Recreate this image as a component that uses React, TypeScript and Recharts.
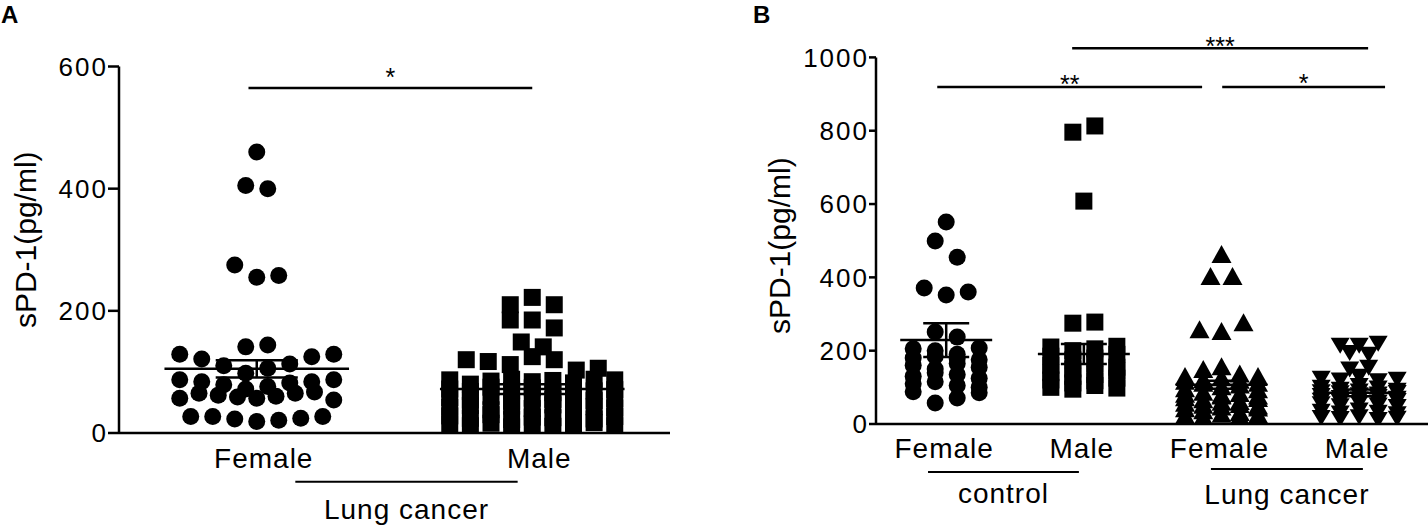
import React from 'react';
import { ScatterChart, Scatter, XAxis, YAxis, ReferenceLine } from 'recharts';

const FONT = '"Liberation Sans", Arial, Helvetica, sans-serif';

// ---------- Panel A data ----------
const categoriesA = ['Female', 'Male'];
const yTicksA = [0, 200, 400, 600];
// values per visual row, read left to right
const lungFemaleRowsA = [
  [460],
  [405, 400],
  [275, 255, 258],
  [141, 144],
  [129, 121, 110, 98, 106, 113, 125, 129],
  [87, 84, 79, 72, 76, 82, 84, 87],
  [57, 65, 62, 59, 57, 60, 65, 67, 54],
  [27, 27, 23, 19, 21, 24, 27],
];
const lungMaleRowsA = [
  [210, 222, 210],
  [185, 185, 172],
  [149, 141],
  [120, 117, 112, 125, 120, 103, 106],
  [87, 80, 85, 88, 84, 86, 82, 88, 87],
  [72, 68, 75, 70, 74, 66, 73, 69, 71],
  [58, 54, 60, 52, 57, 55, 59, 53, 56],
  [42, 45, 38, 44, 40, 46, 39, 43, 41],
  [28, 24, 30, 22, 26, 25, 29, 23, 27],
  [14, 12, 16, 10, 15, 11, 13, 17, 12],
];
const meansA = [105, 72];
const semsA = [14, 8];
const sigA = [{ from: 0.97, to: 2.0, y: 565, text: '*' }];
const groupA = [{ from: 1.14, to: 1.947, y: -80, text: 'Lung cancer' }];

// ---------- Panel B data ----------
const categoriesB = ['Female', 'Male', 'Female', 'Male'];
const yTicksB = [0, 200, 400, 600, 800, 1000];
const controlFemaleRowsB = [
  [551],
  [499, 455],
  [371, 352, 360],
  [251, 237],
  [205, 200, 190, 207],
  [180, 185, 178, 175],
  [160, 150, 165, 155],
  [130, 140, 135, 125],
  [110, 115, 105, 100],
  [88, 57, 71, 85],
];
const controlMaleRowsB = [
  [796, 813],
  [608],
  [275, 278],
  [210, 200, 205, 212],
  [185, 175, 180, 190],
  [160, 150, 165, 155],
  [140, 130, 135, 145],
  [120, 112, 118, 125],
  [100, 95, 105, 98],
];
const lungFemaleRowsB = [
  [461],
  [401, 401],
  [256, 251, 275],
  [128, 147, 155, 135, 128],
  [115, 120, 125, 118, 110],
  [95, 110, 100, 105, 92],
  [80, 85, 78, 82, 75],
  [70, 65, 75, 60, 68],
  [55, 50, 58, 52, 48],
  [40, 35, 45, 30, 42],
  [22, 18, 25, 20, 24],
];
const lungMaleRowsB = [
  [215, 215, 220],
  [195, 190],
  [150, 155],
  [125, 120, 130, 118, 122],
  [100, 95, 105, 98, 92],
  [88, 85, 90, 82, 86],
  [78, 72, 80, 75, 70],
  [65, 62, 68, 60, 64],
  [55, 50, 58, 52, 48],
  [35, 30, 38, 32, 28],
  [18, 15, 20, 12, 16],
];
const meansB = [229, 191, 107, 85];
const semsB = [46, 27, 11, 9];
const sigB = [
  { from: 1.915, to: 4.065, y: 1025, text: '***', offset: -7 },
  { from: 0.935, to: 2.859, y: 919, text: '**', offset: -6 },
  { from: 3.005, to: 4.188, y: 919, text: '*', offset: -5 },
];
const groupB = [
  { from: 0.868, to: 1.964, y: -131, text: 'control', offset: 11 },
  { from: 2.923, to: 4.027, y: -123, text: 'Lung cancer', offset: 15 },
];

// ---------- layout helpers ----------
type Pt = { x: number; y: number };
function layoutRows(rows: number[][], center: number, slotPx: number, maxWidthPx: number, pxPerUnit: number): Pt[] {
  const pts: Pt[] = [];
  rows.forEach((row) => {
    const n = row.length;
    const step = n > 1 ? Math.min(slotPx, maxWidthPx / (n - 1)) : 0;
    row.forEach((v, i) => {
      pts.push({ x: center + ((i - (n - 1) / 2) * step) / pxPerUnit, y: v });
    });
  });
  return pts;
}

const CircleShape = (p: any) => <circle cx={p.cx} cy={p.cy} r={8.5} fill="#000" />;
const SquareShape = (p: any) => <rect x={p.cx - 8.5} y={p.cy - 8.5} width={17} height={17} fill="#000" />;
const TriUpShape = (p: any) => (
  <path d={`M${p.cx},${p.cy - 10} L${p.cx + 10},${p.cy + 8} L${p.cx - 10},${p.cy + 8} Z`} fill="#000" />
);
const TriDownShape = (p: any) => (
  <path d={`M${p.cx - 9.5},${p.cy - 7.5} L${p.cx + 9.5},${p.cy - 7.5} L${p.cx},${p.cy + 8.5} Z`} fill="#000" />
);

const AX = { stroke: '#000', strokeWidth: 2.5 };
const yTickFont = { fill: '#000', fontSize: 26, fontFamily: FONT, letterSpacing: 2 };
const xTickFont = { fill: '#000', fontSize: 28, fontFamily: FONT, letterSpacing: 1 };

function meanLines(means: number[], sems: number[], halfMean: number, halfCap: number, prefix: string) {
  const out: React.ReactNode[] = [];
  means.forEach((m, i) => {
    const c = i + 1;
    const s = sems[i];
    out.push(
      <ReferenceLine key={`${prefix}m${i}`} segment={[{ x: c - halfMean, y: m }, { x: c + halfMean, y: m }]} stroke="#000" strokeWidth={2.5} ifOverflow="visible" />,
      <ReferenceLine key={`${prefix}v${i}`} segment={[{ x: c, y: m - s }, { x: c, y: m + s }]} stroke="#000" strokeWidth={2.5} ifOverflow="visible" />,
      <ReferenceLine key={`${prefix}t${i}`} segment={[{ x: c - halfCap, y: m + s }, { x: c + halfCap, y: m + s }]} stroke="#000" strokeWidth={2.5} ifOverflow="visible" />,
      <ReferenceLine key={`${prefix}b${i}`} segment={[{ x: c - halfCap, y: m - s }, { x: c + halfCap, y: m - s }]} stroke="#000" strokeWidth={2.5} ifOverflow="visible" />
    );
  });
  return out;
}

// Panel A geometry
const A_W = 700, A_H = 529, A_TOP = 66.5, A_YW = 119, A_RIGHT = 30, A_XH = 96;
const A_DOMAIN: [number, number] = [0.5, 2.5];
const A_PPU = (A_W - A_YW - A_RIGHT) / (A_DOMAIN[1] - A_DOMAIN[0]);

// Panel B geometry
const B_W = 708, B_H = 529, B_TOP = 57.4, B_YW = 156, B_RIGHT = 0, B_XH = 105;
const B_DOMAIN: [number, number] = [0.49, 4.5];
const B_PPU = (B_W - B_YW - B_RIGHT) / (B_DOMAIN[1] - B_DOMAIN[0]);

function PanelA() {
  const female = layoutRows(lungFemaleRowsA, 1, 22, 154, A_PPU);
  const male = layoutRows(lungMaleRowsA, 2, 22, 165, A_PPU);
  return (
    <ScatterChart width={A_W} height={A_H} margin={{ top: A_TOP, right: A_RIGHT, bottom: 0, left: 0 }}>
      <XAxis
        type="number"
        dataKey="x"
        domain={A_DOMAIN}
        ticks={[1, 2]}
        tickFormatter={(v: number) => categoriesA[Math.round(v) - 1]}
        tickLine={false}
        tickSize={0}
        tickMargin={15}
        axisLine={AX}
        height={A_XH}
        allowDataOverflow
        tick={{ ...xTickFont, dx: 7 }}
      />
      <YAxis
        type="number"
        dataKey="y"
        domain={[0, 600]}
        ticks={yTicksA}
        width={A_YW}
        tickSize={11}
        tickMargin={0}
        axisLine={AX}
        tickLine={AX}
        allowDataOverflow
        tick={yTickFont}
        label={{ value: 'sPD-1(pg/ml)', angle: -90, position: 'insideLeft', offset: 25, dy: -10, fill: '#000', fontSize: 30, fontFamily: FONT, style: { textAnchor: 'middle' } }}
      />
      <Scatter data={female} shape={CircleShape} isAnimationActive={false} />
      <Scatter data={male} shape={SquareShape} isAnimationActive={false} />
      {meanLines(meansA, semsA, 0.335, 0.149, 'a')}
      {sigA.map((s, i) => (
        <ReferenceLine key={`sa${i}`} segment={[{ x: s.from, y: s.y }, { x: s.to, y: s.y }]} stroke="#000" strokeWidth={2.5} ifOverflow="visible"
          label={{ value: s.text, position: 'top', offset: 2, fill: '#000', fontSize: 25, fontFamily: FONT }} />
      ))}
      {groupA.map((g, i) => (
        <ReferenceLine key={`ga${i}`} segment={[{ x: g.from, y: g.y }, { x: g.to, y: g.y }]} stroke="#000" strokeWidth={2} ifOverflow="visible"
          label={{ value: g.text, position: 'bottom', offset: 17, fill: '#000', fontSize: 28, fontFamily: FONT, letterSpacing: 1 }} />
      ))}
    </ScatterChart>
  );
}

function PanelB() {
  const cf = layoutRows(controlFemaleRowsB, 1, 22, 66, B_PPU);
  const cm = layoutRows(controlMaleRowsB, 2, 22, 66, B_PPU);
  const lf = layoutRows(lungFemaleRowsB, 3, 22, 73, B_PPU);
  const lm = layoutRows(lungMaleRowsB, 4, 19, 76, B_PPU);
  return (
    <ScatterChart width={B_W} height={B_H} margin={{ top: B_TOP, right: B_RIGHT, bottom: 0, left: 0 }}>
      <XAxis
        type="number"
        dataKey="x"
        domain={B_DOMAIN}
        ticks={[1, 2, 3, 4]}
        tickFormatter={(v: number) => categoriesB[Math.round(v) - 1]}
        tickLine={false}
        tickSize={0}
        tickMargin={14}
        axisLine={AX}
        height={B_XH}
        allowDataOverflow
        tick={{ ...xTickFont, dx: -2 }}
      />
      <YAxis
        type="number"
        dataKey="y"
        domain={[0, 1000]}
        ticks={yTicksB}
        width={B_YW}
        tickSize={7}
        tickMargin={0}
        axisLine={AX}
        tickLine={AX}
        allowDataOverflow
        tick={yTickFont}
        label={{ value: 'sPD-1(pg/ml)', angle: -90, position: 'insideLeft', offset: 59, dy: 5, fill: '#000', fontSize: 30, fontFamily: FONT, style: { textAnchor: 'middle' } }}
      />
      <Scatter data={cf} shape={CircleShape} isAnimationActive={false} />
      <Scatter data={cm} shape={SquareShape} isAnimationActive={false} />
      <Scatter data={lf} shape={TriUpShape} isAnimationActive={false} />
      <Scatter data={lm} shape={TriDownShape} isAnimationActive={false} />
      {meanLines(meansB, semsB, 0.334, 0.167, 'b')}
      {sigB.map((s, i) => (
        <ReferenceLine key={`sb${i}`} segment={[{ x: s.from, y: s.y }, { x: s.to, y: s.y }]} stroke="#000" strokeWidth={2.5} ifOverflow="visible"
          label={{ value: s.text, position: 'top', offset: s.offset, fill: '#000', fontSize: 25, fontFamily: FONT }} />
      ))}
      {groupB.map((g, i) => (
        <ReferenceLine key={`gb${i}`} segment={[{ x: g.from, y: g.y }, { x: g.to, y: g.y }]} stroke="#000" strokeWidth={2} ifOverflow="visible"
          label={{ value: g.text, position: 'bottom', offset: g.offset, fill: '#000', fontSize: 28, fontFamily: FONT, letterSpacing: 1 }} />
      ))}
    </ScatterChart>
  );
}

export default function App() {
  const letter: React.CSSProperties = { position: 'absolute', fontFamily: FONT, fontWeight: 'bold', fontSize: 24, lineHeight: '24px', color: '#000' };
  return (
    <div style={{ position: 'absolute', left: 0, top: 0, width: 1428, height: 529, background: '#fff', overflow: 'hidden' }}>
      <div style={{ position: 'absolute', left: 0, top: 0 }}>
        <PanelA />
      </div>
      <div style={{ position: 'absolute', left: 720, top: 0 }}>
        <PanelB />
      </div>
      <div style={{ ...letter, left: 1, top: 3 }}>A</div>
      <div style={{ ...letter, left: 753, top: 3 }}>B</div>
    </div>
  );
}
